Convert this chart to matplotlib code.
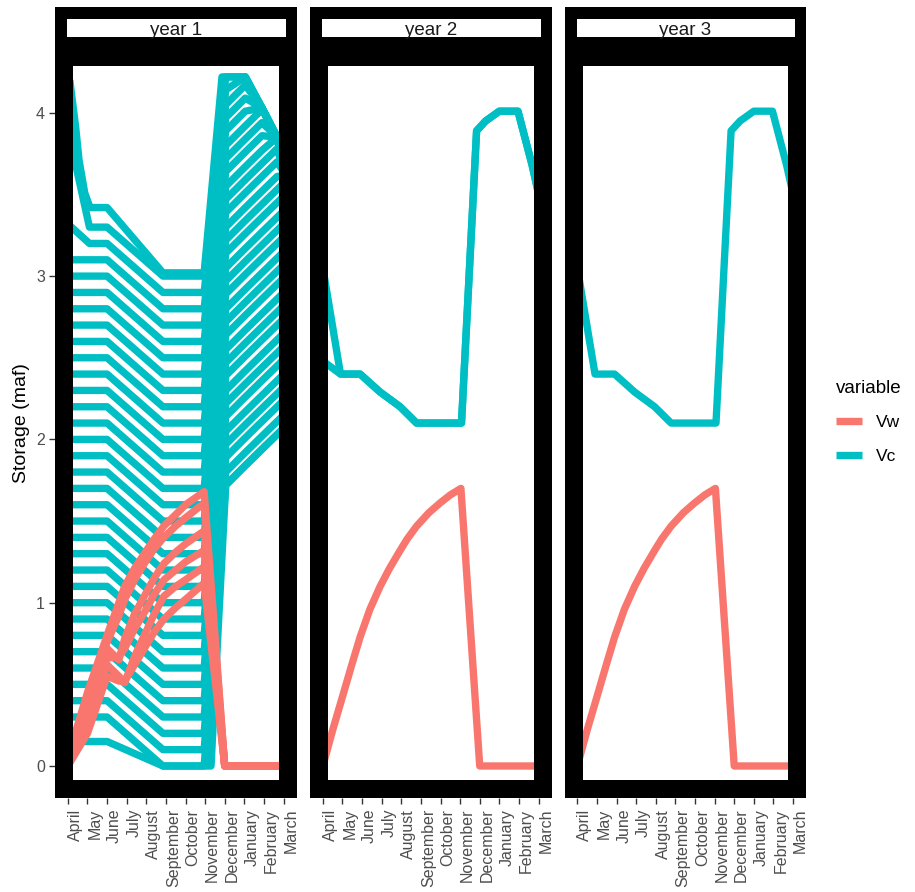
import numpy as np
import matplotlib
matplotlib.use("Agg")
import matplotlib.pyplot as plt
from matplotlib.patches import Rectangle
from matplotlib.lines import Line2D
from matplotlib.transforms import ScaledTranslation

plt.rcParams['font.family'] = ['Liberation Sans', 'DejaVu Sans']

RED = '#F8766D'
TEAL = '#00BFC4'

months = ["April", "May", "June", "July", "August", "September", "October",
          "November", "December", "January", "February", "March"]
month_pos = list(range(12))
facets = ["year 1", "year 2", "year 3"]

# ---- years 2 and 3 (runs have converged) ----
vw_x = [0.0, 0.5, 1.05, 1.5, 1.9, 2.4, 2.92, 3.4, 3.94, 4.3, 4.79, 5.4, 5.97, 6.5,
        7.04, 8.0, 11.1]
vw_y = [0.0, 0.22, 0.445, 0.63, 0.79, 0.96, 1.10, 1.21, 1.32, 1.39, 1.47, 1.55, 1.61,
        1.66, 1.70, 0.0, 0.0]

vc_x = [0.0, 0.9, 1.9, 2.92, 3.94, 4.78, 7.07, 7.84, 8.3, 9.0, 9.95, 10.67, 11.1]
vc_y = [3.05, 2.40, 2.40, 2.29, 2.20, 2.10, 2.10, 3.89, 3.95, 4.01, 4.01, 3.68, 3.45]
vc_y_alt = [2.48, 2.40, 2.40, 2.29, 2.20, 2.10, 2.10, 3.89, 3.95, 4.01, 4.01, 3.68, 3.45]

# ---- year 1 (many runs) ----
# Vc runs: break points shared by every run
c1_x = [0.0, 1.1, 2.0, 4.85, 6.95, 8.05, 9.05, 9.9, 10.67, 11.1]
c1_start = [0.3, 0.4, 0.5, 0.6, 0.7, 0.8, 0.9, 1.0, 1.1, 1.2, 1.3, 1.4, 1.5, 1.6, 1.7,
            1.8, 1.9, 2.0, 2.1, 2.2, 2.3, 2.4, 2.5, 2.6, 2.7, 2.8, 2.9, 3.0, 3.1, 3.32, 3.9]
c1_apr = [0.3, 0.4, 0.5, 0.6, 0.7, 0.8, 0.9, 1.0, 1.1, 1.2, 1.3, 1.4, 1.5, 1.6, 1.7,
          1.8, 1.9, 2.0, 2.1, 2.2, 2.3, 2.4, 2.5, 2.6, 2.7, 2.8, 2.9, 3.0, 3.1, 3.2, 3.3]
c1_sep = [0.0, 0.1, 0.2, 0.3, 0.4, 0.5, 0.6, 0.7, 0.8, 0.9, 1.0, 1.1, 1.2, 1.3, 1.4,
          1.5, 1.6, 1.7, 1.8, 1.9, 2.0, 2.1, 2.2, 2.3, 2.4, 2.5, 2.6, 2.7, 2.8, 2.9, 3.0]
c1_nov = [1.72, 1.80, 1.89, 1.97, 2.05, 2.14, 2.22, 2.30, 2.39, 2.47, 2.55, 2.64, 2.72,
          2.80, 2.89, 2.97, 3.05, 3.14, 3.22, 3.30, 3.39, 3.47, 3.55, 3.64, 3.72, 3.80,
          3.89, 3.97, 4.05, 4.14, 4.22]
c1_rise = [0.0, 0.12, 0.22, 0.31, 0.36]      # gain after November
c1_cap = [4.22, 4.22, 4.03, 3.85, 3.62]      # winter upper envelope

c1_top_x = [0.1, 0.4, 0.57, 0.86, 1.13, 2.0, 4.85, 6.95, 7.86, 9.05, 9.9, 10.67, 11.1]
c1_top_y = [4.2, 3.91, 3.71, 3.51, 3.42, 3.42, 3.02, 3.02, 4.22, 4.22, 4.03, 3.85, 3.62]
c1_low_x = [0.0, 2.0, 4.85, 7.3, 8.05, 9.05, 9.9, 10.67, 11.1]
c1_low_y = [0.15, 0.15, 0.0, 0.0, 1.72, 1.84, 1.94, 2.03, 2.08]

# Vw runs
w1_x = [0.0, 1.0, 2.0, 2.6, 2.9, 3.4, 3.9, 4.4, 4.9, 5.5, 6.0, 6.95, 8.0, 11.1]
w1_runs = [
    [0.05, 0.45, 0.80, 1.00, 1.10, 1.21, 1.30, 1.39, 1.47, 1.54, 1.60, 1.68, 0.0, 0.0],
    [0.03, 0.40, 0.76, 0.92, 1.02, 1.14, 1.24, 1.33, 1.40, 1.47, 1.52, 1.61, 0.0, 0.0],
    [0.02, 0.36, 0.72, 0.65, 0.78, 0.93, 1.04, 1.15, 1.24, 1.31, 1.36, 1.44, 0.0, 0.0],
    [0.00, 0.30, 0.66, 0.67, 0.72, 0.84, 0.94, 1.05, 1.14, 1.20, 1.25, 1.32, 0.0, 0.0],
    [0.00, 0.25, 0.62, 0.55, 0.51, 0.67, 0.80, 0.93, 1.04, 1.10, 1.14, 1.22, 0.0, 0.0],
    [0.00, 0.20, 0.55, 0.52, 0.52, 0.62, 0.72, 0.82, 0.90, 0.97, 1.02, 1.12, 0.0, 0.0],
]

LW = 5.3
W, H = 915, 892
fig = plt.figure(figsize=(W / 100, H / 100), dpi=100)

lefts = [55, 310, 564.5]
pw = 241.5
p_top, p_bot = 47.5, 798
s_top = 7

axes = []
for i, left in enumerate(lefts):
    ax = fig.add_axes([left / W, 1 - p_bot / H, pw / W, (p_bot - p_top) / H])
    ax.set_xlim(-0.656, 11.66)
    ax.set_ylim(-0.196, 4.40)
    for s in ax.spines.values():
        s.set_visible(False)
    ax.set_xticks(month_pos)
    ax.set_xticklabels(months, rotation=90, ha='left', va='top',
                       fontsize=11.5, color='#4D4D4D')
    off = ScaledTranslation(3 / 100, 0, fig.dpi_scale_trans)
    for lbl in ax.get_xticklabels():
        lbl.set_transform(lbl.get_transform() + off)
    ax.tick_params(axis='x', length=4.3, width=1.0, color='#333333', pad=3.5)
    if i == 0:
        ax.set_yticks([0, 1, 2, 3, 4])
        ax.tick_params(axis='y', length=4.3, width=1.0, color='#333333',
                       labelsize=11.5, labelcolor='#4D4D4D', pad=3)
    else:
        ax.set_yticks([])
    # thick panel border (inner half visible, clipped to the panel)
    ax.add_patch(Rectangle((0, 0), 1, 1, transform=ax.transAxes, fill=False,
                           edgecolor='black', lw=36 * 0.72, zorder=10))

    sax = fig.add_axes([left / W, 1 - p_top / H, pw / W, (p_top - s_top) / H])
    sax.set_xticks([])
    sax.set_yticks([])
    for s in sax.spines.values():
        s.set_visible(False)
    sax.add_patch(Rectangle((0, 0), 1, 1, transform=sax.transAxes, fill=False,
                            edgecolor='black', lw=23 * 0.72, zorder=10))
    sax.text(0.5, (p_top - 35) / (p_top - s_top), facets[i], transform=sax.transAxes,
             ha='center', va='baseline', fontsize=13.5, color='#1A1A1A', zorder=11)
    axes.append(ax)

line_kw = dict(lw=LW, solid_capstyle='butt', solid_joinstyle='round')

# year 1
ax = axes[0]
for k in range(len(c1_apr)):
    tail = np.minimum(c1_nov[k] + np.array(c1_rise), c1_cap)
    ys = [c1_start[k], c1_apr[k], c1_apr[k], c1_sep[k], c1_sep[k]] + list(tail)
    ax.plot(c1_x, ys, color=TEAL, zorder=2, **line_kw)
ax.plot(c1_top_x, c1_top_y, color=TEAL, zorder=2, **line_kw)
ax.plot(c1_low_x, c1_low_y, color=TEAL, zorder=2, **line_kw)
for run in w1_runs:
    ax.plot(w1_x, run, color=RED, zorder=3, **line_kw)

# years 2 and 3
axes[1].plot(vc_x, vc_y_alt, color=TEAL, zorder=2, **line_kw)
for ax in axes[1:]:
    ax.plot(vc_x, vc_y, color=TEAL, zorder=2, **line_kw)
    ax.plot(vw_x, vw_y, color=RED, zorder=3, **line_kw)

fig.text(22 / W, 1 - 423 / H, "Storage (maf)", rotation=90, ha='center', va='center',
         fontsize=14, color='black')

handles = [Line2D([], [], color=RED, lw=LW, solid_capstyle='butt'),
           Line2D([], [], color=TEAL, lw=LW, solid_capstyle='butt')]
leg = fig.legend(handles, ["Vw", "Vc"], title="variable", loc='upper left',
                 bbox_to_anchor=(836 / W, 1 - 380 / H), frameon=False, fontsize=12.5,
                 title_fontsize=13.5, handlelength=1.5, handletextpad=0.8,
                 labelspacing=1.05, borderaxespad=0, borderpad=0)
leg._legend_box.align = "left"
leg._legend_box.sep = 13

fig.savefig("out.png", dpi=100)
